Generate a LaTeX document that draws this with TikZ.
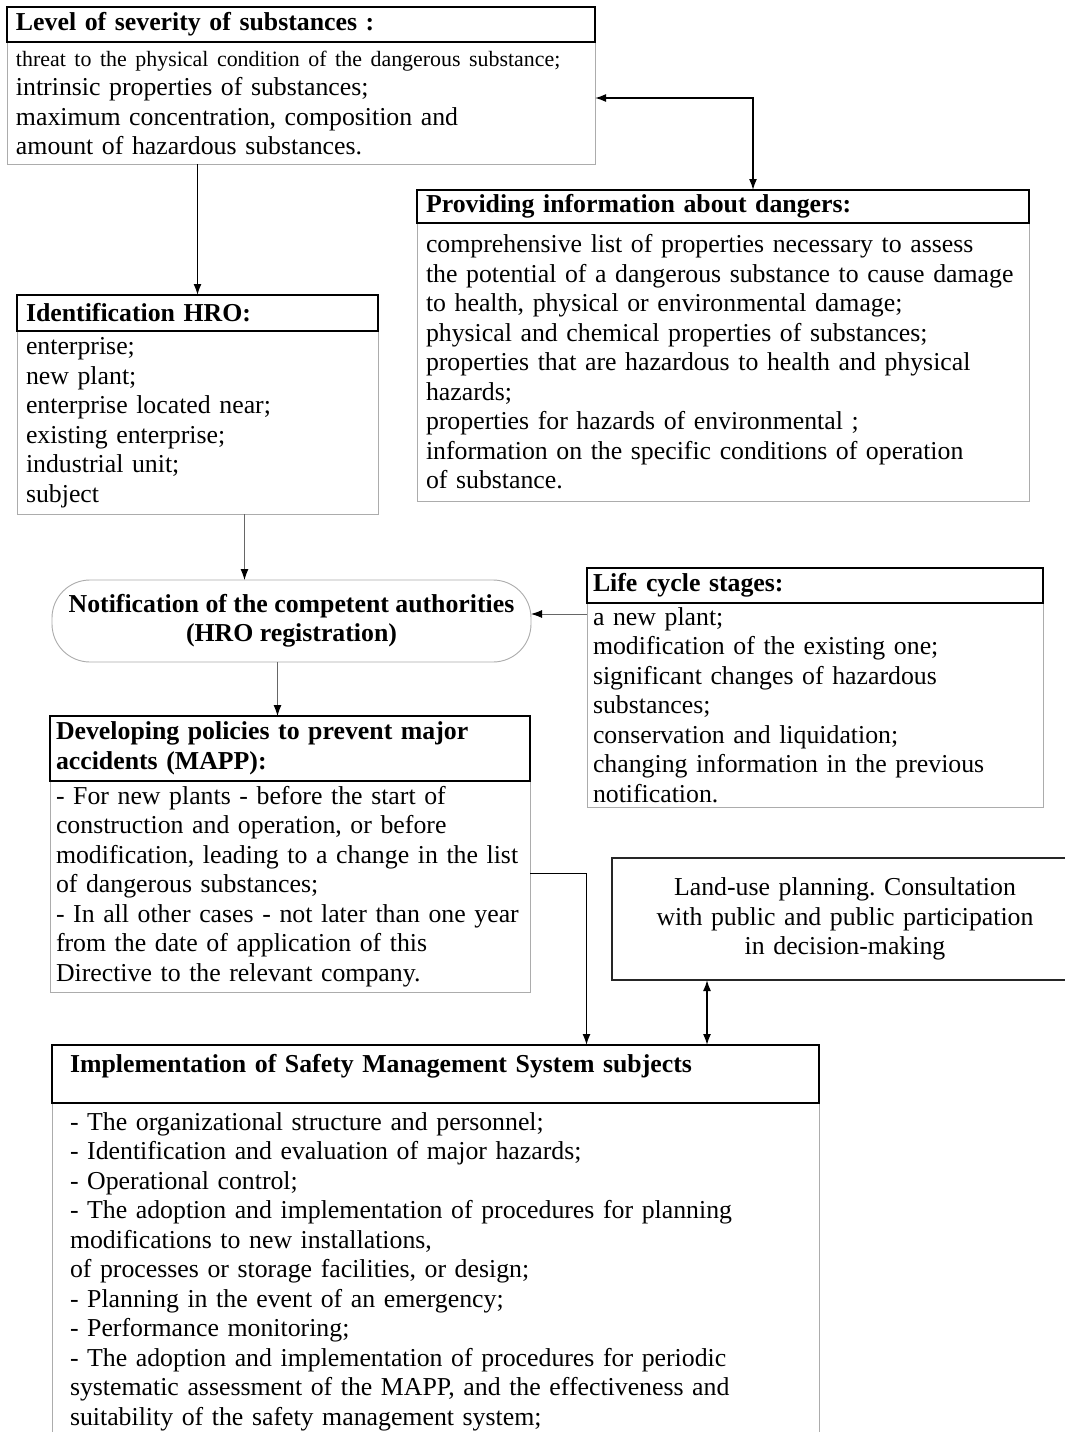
\documentclass[tikz,border=0pt]{standalone}
\usepackage{fontspec}
\setmainfont{Liberation Serif}
\usetikzlibrary{positioning, arrows.meta}
\frenchspacing

\begin{document}
\begin{tikzpicture}[x=1pt, y=-1pt]
	% Define styles
	\tikzset{
		bodybox/.style={rectangle, draw=gray!65, line width=0.9pt, outer sep=0pt, anchor=north west, align=left, inner xsep=9pt, inner ysep=0pt, font=\fontsize{25.8}{29.5}\selectfont},
		headbox/.style={rectangle, draw=black, line width=1.6pt, outer sep=0pt, align=left, inner xsep=9pt, inner ysep=0pt, font=\bfseries\fontsize{25.8}{29.5}\selectfont},
		notebox/.style={rectangle, draw=gray!65, line width=0.9pt, rounded corners=38pt, outer sep=0pt, anchor=north west, align=center, inner xsep=4pt, font=\bfseries\fontsize{25.8}{29.5}\selectfont},
		line/.style={draw, line width=1.6pt, -{Latex[length=11pt,width=8pt]}},
		twoline/.style={draw, line width=1.6pt, {Latex[length=11pt,width=8pt]}-{Latex[length=11pt,width=8pt]}},
		thinline/.style={draw=gray!80!black, line width=0.9pt, -{Latex[length=11pt,width=8pt,color=black]}}
	}
	
	\useasboundingbox (0,0) rectangle (1065,1432);
	\clip (0,0) rectangle (1065,1432);
	\fill[white] (0,0) rectangle (1065,1432);
	
	% Nodes
	\node[bodybox, text width=570pt, minimum height=122pt] (sevbody) at (7,42) {{\fontsize{21.9}{28}\selectfont threat to the physical condition of the dangerous substance;}\\intrinsic properties of substances;\\maximum concentration, composition and\\amount of hazardous substances.};
	\node[headbox, text width=570pt, minimum height=35pt, above=0pt of sevbody] (sevhead) {Level of severity of substances :};
	
	\node[bodybox, text width=343pt, minimum height=183pt] (idbody) at (17,331) {enterprise;\\new plant;\\enterprise located near;\\existing enterprise;\\industrial unit;\\subject};
	\node[headbox, text width=343pt, minimum height=36pt, above=0pt of idbody] (idhead) {Identification HRO:};
	
	\node[bodybox, text width=594pt, minimum height=278pt] (provbody) at (417,223) {comprehensive list of properties necessary to assess\\the potential of a dangerous substance to cause damage\\to health, physical or environmental damage;\\physical and chemical properties of substances;\\properties that are hazardous to health and physical\\hazards;\\properties for hazards of environmental ;\\information on the specific conditions of operation\\of substance.};
	\node[headbox, text width=594pt, minimum height=33pt, above=0pt of provbody] (provhead) {Providing information about dangers:};
	
	\node[notebox, minimum width=479pt, minimum height=82pt] (notif) at (52,580) {Notification of the competent authorities\\(HRO registration)};
	
	\node[bodybox, inner xsep=6pt, text width=444pt, minimum height=204pt] (lifebody) at (587,603) {a new plant;\\modification of the existing one;\\significant changes of hazardous\\substances;\\conservation and liquidation;\\changing information in the previous\\notification.};
	\node[headbox, inner xsep=6pt, text width=444pt, minimum height=35pt, above=0pt of lifebody] (lifehead) {Life cycle stages:};
	
	\node[bodybox, inner xsep=6pt, text width=468pt, minimum height=211pt] (devbody) at (50,781) {- For new plants - before the start of\\construction and operation, or before\\modification, leading to a change in the list\\of dangerous substances;\\- In all other cases - not later than one year\\from the date of application of this\\Directive to the relevant company.};
	\node[headbox, inner xsep=6pt, text width=468pt, minimum height=65pt, above=0pt of devbody] (devhead) {Developing policies to prevent major\\accidents (MAPP):};
	
	\node[bodybox, draw=black!85, line width=1.4pt, align=center, inner xsep=13pt, text width=440pt, minimum height=122pt] (land) at (612,858) {Land-use planning. Consultation\\with public and public participation\\in decision-making};
	
	\node[bodybox, inner xsep=18pt, text width=731pt, minimum height=337pt] (impbody) at (52,1103) {- The organizational structure and personnel;\\- Identification and evaluation of major hazards;\\- Operational control;\\- The adoption and implementation of procedures for planning\\modifications to new installations,\\of processes or storage facilities, or design;\\- Planning in the event of an emergency;\\- Performance monitoring;\\- The adoption and implementation of procedures for periodic\\systematic assessment of the MAPP, and the effectiveness and\\suitability of the safety management system;};
	\node[headbox, inner xsep=18pt, inner ysep=9pt, text width=731pt, text height=18pt, text depth=22pt, above=0pt of impbody] (imphead) {Implementation of Safety Management System subjects};
	
	% Connector ends
	\coordinate (sevout) at ([yshift=5pt]sevbody.east);
	\coordinate (provin) at ([xshift=30pt]provhead.north);
	\coordinate (idout) at ([xshift=47pt]idbody.south);
	\coordinate (lifeout) at ([yshift=-11pt]lifebody.north west);
	\coordinate (notifout) at ([xshift=-14pt]notif.south);
	\coordinate (devout) at ([yshift=13pt]devbody.east);
	\coordinate (impin) at ([xshift=151pt]imphead.north);
	\coordinate (landout) at ([xshift=95pt]land.south west);
	
	% Arrows
	\draw[line] (sevbody.south -| idhead.north) -- (idhead.north);
	\draw[twoline] (sevout) -| (provin);
	\draw[thinline] (idout) -- (idout |- notif.north);
	\draw[thinline] (lifeout) -- (lifeout -| notif.east);
	\draw[thinline] (notifout) -- (notifout |- devhead.north);
	\draw[line] (devout) -| (impin);
	\draw[twoline] (landout) -- (landout |- imphead.north);
	
\end{tikzpicture}
\end{document}
